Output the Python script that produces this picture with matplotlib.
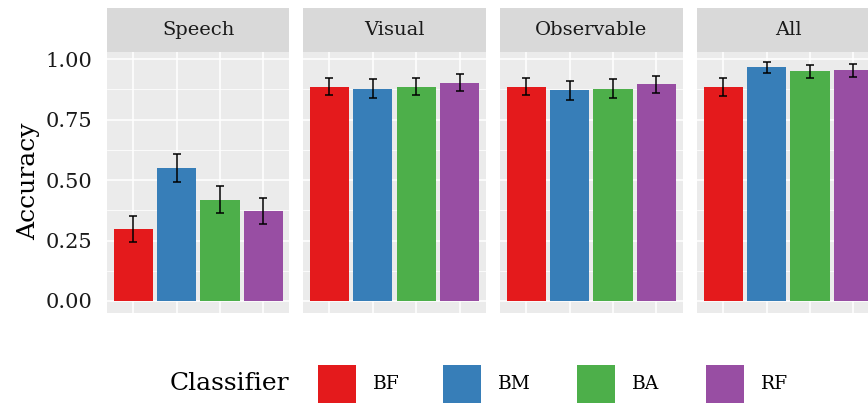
import matplotlib.pyplot as plt
from matplotlib.patches import Rectangle
import numpy as np

# accuracy per feature set and classifier, with error bar half-widths
feature_sets = ['Speech', 'Visual', 'Observable', 'All']
classifiers = ['BF', 'BM', 'BA', 'RF']
colors = ['#E41A1C', '#377EB8', '#4DAF4A', '#984EA3']

acc_speech = [0.298, 0.552, 0.418, 0.373]
acc_visual = [0.887, 0.879, 0.887, 0.903]
acc_observable = [0.887, 0.871, 0.879, 0.896]
acc_all = [0.887, 0.966, 0.950, 0.954]

err_speech = [0.052, 0.058, 0.056, 0.054]
err_visual = [0.036, 0.038, 0.036, 0.036]
err_observable = [0.036, 0.040, 0.038, 0.036]
err_all = [0.037, 0.023, 0.027, 0.026]

accs = [acc_speech, acc_visual, acc_observable, acc_all]
errs = [err_speech, err_visual, err_observable, err_all]

W, H = 868, 405
fig = plt.figure(figsize=(W / 100, H / 100), dpi=100)
plt.rcParams['font.family'] = ['DejaVu Serif']

def fx(px):
    return px / W

def fy(py):
    return 1 - py / H

panel_w = 182.5
panel_top, panel_bot = 52, 313
strip_top = 8
lefts = [107, 303.3, 500, 697]
x = np.arange(1, 5)

for i, name in enumerate(feature_sets):
    ax = fig.add_axes([fx(lefts[i]), fy(panel_bot), panel_w / W, (panel_bot - panel_top) / H])
    ax.set_facecolor('#EBEBEB')
    for s in ax.spines.values():
        s.set_visible(False)
    ax.set_xlim(0.4, 4.6)
    ax.set_ylim(-0.0497, 1.030)
    ax.set_yticks([0, 0.25, 0.5, 0.75, 1.0])
    ax.set_yticks([0.125, 0.375, 0.625, 0.875], minor=True)
    ax.set_xticks(x)
    ax.grid(which='major', color='white', linewidth=1.1)
    ax.grid(which='minor', axis='y', color='white', linewidth=0.55)
    ax.set_axisbelow(True)
    ax.tick_params(axis='x', length=0, labelbottom=False)
    ax.tick_params(axis='y', which='minor', length=0)
    if i == 0:
        ax.tick_params(axis='y', which='major', length=0,
                       labelsize=15, labelcolor='#1A1A1A', pad=10.5)
        ax.set_yticklabels(['0.00', '0.25', '0.50', '0.75', '1.00'])
    else:
        ax.tick_params(axis='y', which='major', length=0, labelleft=False)

    ax.bar(x, accs[i], width=0.9, color=colors, zorder=2)
    ax.errorbar(x, accs[i], yerr=errs[i], fmt='none', ecolor='black',
                elinewidth=1.1, capsize=3.2, capthick=1.1, zorder=3)

    # facet strip
    strip = fig.add_axes([fx(lefts[i]), fy(panel_top), panel_w / W, (panel_top - strip_top) / H])
    strip.set_facecolor('#D9D9D9')
    strip.set_xticks([])
    strip.set_yticks([])
    for s in strip.spines.values():
        s.set_visible(False)
    strip.text(0.5, 0.5, name, ha='center', va='center', fontsize=14, color='#1A1A1A',
               transform=strip.transAxes)

fig.text(fx(29), fy(181), 'Accuracy', rotation=90, ha='center', va='center',
         fontsize=18, color='black')

# legend along the bottom
fig.text(fx(229), fy(384), 'Classifier', ha='center', va='center', fontsize=18, color='black')
key_lefts = [318, 443, 577, 706]
for k, (lab, col) in enumerate(zip(classifiers, colors)):
    fig.add_artist(Rectangle((fx(key_lefts[k]), fy(403)), 38 / W, 38 / H,
                             transform=fig.transFigure, facecolor=col, edgecolor='none'))
    fig.text(fx(key_lefts[k] + 55), fy(384), lab, ha='left', va='center',
             fontsize=13.5, color='black')

fig.savefig('out.png', dpi=100)
